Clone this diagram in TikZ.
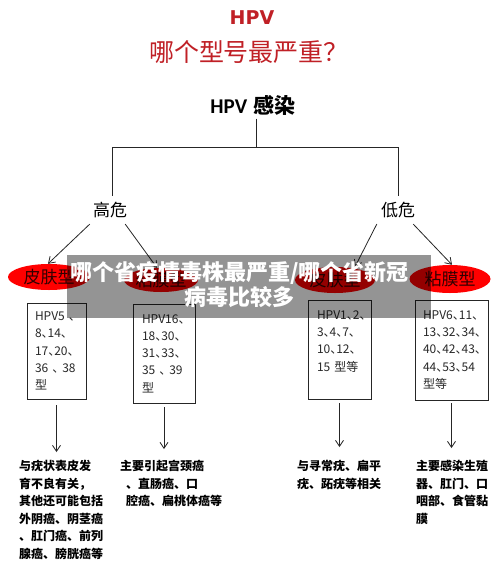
\documentclass[tikz,border=0pt]{standalone}
\usepackage{fontspec}
\usetikzlibrary{shapes.geometric,arrows.meta}
\newfontfamily\cjk{Noto Sans CJK SC}
\newfontfamily\cjkh[RawFeature=+halt]{Noto Sans CJK SC}
\newfontfamily\dvs{DejaVu Sans}
\newfontfamily\carl{Carlito}
\definecolor{titlered}{RGB}{192,32,38}
\definecolor{elltext}{RGB}{50,0,0}
\definecolor{boxtext}{RGB}{40,40,40}
\begin{document}
\begin{tikzpicture}[x=1pt,y=-1pt,
  conn/.style={line width=0.8pt, draw=black!85},
  arr/.style={conn, -{Straight Barb[length=6pt,width=8pt]}},
  lvl/.style={font=\cjk\fontsize{17}{17}\selectfont, inner sep=6pt},
  ell/.style={ellipse, fill=red, inner sep=0pt, text=elltext, font=\cjk\fontsize{17}{17}\selectfont},
  hbox/.style={draw=black!85, line width=0.8pt, align=left, inner ysep=0pt, text=boxtext,
     font=\cjkh\fontsize{12}{17.3}\selectfont},
  desc/.style={anchor=north west, inner sep=0pt, align=left,
     font=\cjk\bfseries\fontsize{12}{17.6}\selectfont}
]
\useasboundingbox[fill=white] (0,0) rectangle (500,574);

\node[font=\dvs\bfseries\fontsize{19}{19}\selectfont, text=titlered] (title1) at (252,18) {HPV};
\node[font=\cjk\fontsize{25}{25}\selectfont, text=titlered] (title2) at (249,52) {哪个型号最严重？};

\node[font=\fontsize{21}{21}\selectfont] (hpv) at (253,105) {{\carl\bfseries HPV} {\cjk\bfseries 感染}};

\coordinate (j) at (256,147);
\coordinate (jl) at (112,147);
\coordinate (jr) at (398,147);

\node[lvl] (gao) at (110,210) {高危};
\node[lvl] (di) at (398,210) {低危};

\draw[conn] (j |- hpv.south) -- (j);
\draw[conn] (jl) -- (jr);
\draw[conn] (jl) -- (jl |- gao.north);
\draw[conn] (jr) -- (jr |- di.north);

\node[ell, minimum width=82pt, minimum height=26pt] (e1) at (49,277) {皮肤型};
\node[ell, minimum width=74pt, minimum height=24pt] (e2) at (161,280) {粘膜型};
\node[ell, minimum width=80pt, minimum height=26pt] (e3) at (335,280) {皮肤型};
\node[ell, minimum width=81pt, minimum height=28pt] (e4) at (450,279) {粘膜型};

\draw[arr] ([xshift=3pt]gao.south west) -- ([xshift=-1pt]e1.north);
\draw[arr] ([xshift=-8pt]gao.south east) -- ([xshift=-4pt]e2.north);
\draw[arr] ([xshift=2pt]di.south west) -- ([xshift=20pt]e3.north);
\draw[arr] ([xshift=-8pt]di.south east) -- ([xshift=2pt]e4.north);

\node[hbox, inner xsep=8pt, text width=43pt, minimum height=96pt] (b1) at (56.5,351)
  {HPV5 、\\8、14、\\17、20、\\36 、 38\\型};
\node[hbox, inner xsep=9pt, text width=44pt, minimum height=99pt] (b2) at (164,353.5)
  {HPV16、\\18、30、\\31、33、\\35 、 39\\型};
\node[hbox, inner xsep=9pt, text width=45pt, minimum height=99pt] (b3) at (339.5,349.5)
  {HPV1、2、\\3、4、7、\\10、12、\\15 型等\\\mbox{}};
\node[hbox, inner xsep=8pt, text width=57pt, minimum height=100pt] (b4) at (451.5,350)
  {HPV6、11、\\13、32、34、\\40、42、43、\\44、53、54\\型等};

\node[desc] (d1) at (19,460) {与疣状表皮发\\育不良有关，\\其他还可能包括\\外阴癌、阴茎癌\\、肛门癌、前列\\腺癌、膀胱癌等};
\node[desc] (d2) at (120,460) {主要引起宫颈癌\\\hspace*{6pt}、直肠癌、口\\\hspace*{6pt}腔癌、扁桃体癌等};
\node[desc] (d3) at (297,460) {与寻常疣、扁平\\疣、跖疣等相关};
\node[desc] (d4) at (416,460) {主要感染生殖\\器、肛门、口\\咽部、食管黏\\膜};

\draw[arr, shorten <=6pt, shorten >=8pt] (b1.south) -- (b1.south |- d1.north);
\draw[arr, shorten <=4pt, shorten >=11pt] (b2.south) -- (b2.south |- d2.north);
\draw[arr, shorten <=4pt, shorten >=13pt] (b3.south) -- (b3.south |- d3.north);
\draw[arr, shorten <=3pt, shorten >=12pt] (b4.south) -- (b4.south |- d4.north);

\node[fill=black, fill opacity=0.42, minimum width=364pt, minimum height=63pt, inner sep=0pt] (banner) at (249,286.5) {};
\node[text=white, font=\cjk\bfseries\fontsize{22}{25}\selectfont, align=center] (bantext) at (239.5,284.5)
  {哪个省疫情毒株最严重/哪个省新冠\\病毒比较多};
\end{tikzpicture}
\end{document}
